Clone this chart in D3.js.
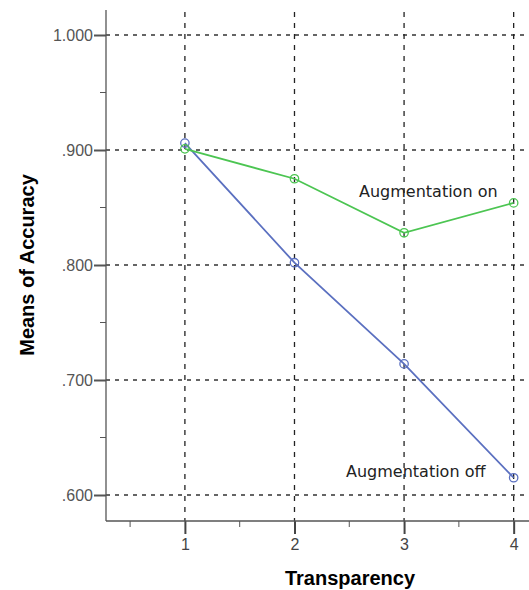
<!DOCTYPE html>
<html>
<head>
<meta charset="utf-8">
<script src="https://d3js.org/d3.v7.min.js"></script>
<style>
  body { margin: 0; background: #fff; }
  text { font-family: "Liberation Sans", Arial, sans-serif; }
</style>
</head>
<body>
<script>
'use strict';

// chart values
let transparency = [1, 2, 3, 4];
let augOn = [0.901, 0.875, 0.828, 0.854];
let augOff = [0.906, 0.802, 0.714, 0.615];
let yTicks = [0.6, 0.7, 0.8, 0.9, 1.0];
let yMinorTicks = [0.65, 0.75, 0.85, 0.95];
let xMinorTicks = [0.5, 1.5, 2.5, 3.5];

let width = 529, height = 590;

let svg = d3.select('body')
  .append('svg')
  .attr('width', width)
  .attr('height', height);

// scales
let xScale = d3.scaleLinear()
  .domain([0.28, 4.14])
  .range([106, 529]);

let yScale = d3.scaleLinear()
  .domain([0.6, 1.0])
  .range([495, 35]);

let plotTop = 10, plotBottom = 521;

// horizontal dashed grid
svg.append('g')
  .selectAll('line')
  .data(yTicks)
  .enter()
  .append('line')
    .attr('x1', 106)
    .attr('x2', width)
    .attr('y1', (d) => yScale(d))
    .attr('y2', (d) => yScale(d))
    .attr('stroke', '#333')
    .attr('stroke-width', 1.3)
    .attr('stroke-dasharray', '4,5');

// vertical dashed grid
svg.append('g')
  .selectAll('line')
  .data(transparency)
  .enter()
  .append('line')
    .attr('x1', (d) => xScale(d))
    .attr('x2', (d) => xScale(d))
    .attr('y1', plotTop + 2)
    .attr('y2', plotBottom)
    .attr('stroke', '#222')
    .attr('stroke-width', 1.3)
    .attr('stroke-dasharray', '5,6');

// y axis
let yAxis = d3.axisLeft(yScale)
  .tickValues(yTicks)
  .tickFormat((d) => d === 1 ? '1.000' : d3.format('.3f')(d).replace(/^0/, ''))
  .tickSize(12)
  .tickPadding(1)
  .tickSizeOuter(0);

let gy = svg.append('g')
  .attr('transform', 'translate(106,0)')
  .call(yAxis);
gy.attr('font-size', 16).attr('font-family', '"Liberation Sans", Arial, sans-serif');
gy.select('.domain').remove();
gy.selectAll('.tick line').attr('stroke', '#555').attr('stroke-width', 2);
gy.selectAll('.tick text').attr('fill', '#555');

svg.append('g')
  .selectAll('line')
  .data(yMinorTicks)
  .enter()
  .append('line')
    .attr('x1', 100)
    .attr('x2', 106)
    .attr('y1', (d) => yScale(d))
    .attr('y2', (d) => yScale(d))
    .attr('stroke', '#555')
    .attr('stroke-width', 1);

svg.append('line')
  .attr('x1', 106).attr('x2', 106)
  .attr('y1', plotTop).attr('y2', plotBottom)
  .attr('stroke', '#555')
  .attr('stroke-width', 1.3);

// x axis
let xAxis = d3.axisBottom(xScale)
  .tickValues(transparency)
  .tickFormat(d3.format('d'))
  .tickSize(13)
  .tickPadding(5)
  .tickSizeOuter(0);

let gx = svg.append('g')
  .attr('transform', 'translate(0,' + plotBottom + ')')
  .call(xAxis);
gx.attr('font-size', 16).attr('font-family', '"Liberation Sans", Arial, sans-serif');
gx.select('.domain').remove();
gx.selectAll('.tick line').attr('stroke', '#444').attr('stroke-width', 2);
gx.selectAll('.tick text').attr('fill', '#444');

svg.append('g')
  .selectAll('line')
  .data(xMinorTicks)
  .enter()
  .append('line')
    .attr('x1', (d) => xScale(d))
    .attr('x2', (d) => xScale(d))
    .attr('y1', plotBottom)
    .attr('y2', plotBottom + 6)
    .attr('stroke', '#555')
    .attr('stroke-width', 1);

svg.append('line')
  .attr('x1', 106).attr('x2', width)
  .attr('y1', plotBottom).attr('y2', plotBottom)
  .attr('stroke', '#555')
  .attr('stroke-width', 1.3);

// series
function drawSeries(values, color) {
  let rows = transparency.map((t, i) => ({ x: t, y: values[i] }));
  let line = d3.line()
    .x((d) => xScale(d.x))
    .y((d) => yScale(d.y));

  svg.append('path')
    .datum(rows)
    .attr('fill', 'none')
    .attr('stroke', color)
    .attr('stroke-width', 1.8)
    .attr('d', line);

  svg.append('g')
    .selectAll('circle')
    .data(rows)
    .enter()
    .append('circle')
      .attr('cx', (d) => xScale(d.x))
      .attr('cy', (d) => yScale(d.y))
      .attr('r', 4.2)
      .attr('fill', 'none')
      .attr('stroke', color)
      .attr('stroke-width', 1.3);
}

drawSeries(augOff, '#5b70c0');
drawSeries(augOn, '#4cc552');

// series labels
svg.append('text')
  .attr('x', 359)
  .attr('y', 197)
  .attr('fill', '#222')
  .style('font-family', '"DejaVu Sans", sans-serif')
  .style('font-size', '16px')
  .text('Augmentation on');

svg.append('text')
  .attr('x', 346)
  .attr('y', 477)
  .attr('fill', '#222')
  .style('font-family', '"DejaVu Sans", sans-serif')
  .style('font-size', '16px')
  .text('Augmentation off');

// axis titles
svg.append('text')
  .attr('x', 350)
  .attr('y', 585)
  .attr('text-anchor', 'middle')
  .style('font-size', '20px')
  .style('font-weight', 'bold')
  .text('Transparency');

svg.append('text')
  .attr('transform', 'translate(34, 265)rotate(-90)')
  .attr('text-anchor', 'middle')
  .style('font-size', '20px')
  .style('font-weight', 'bold')
  .text('Means of Accuracy');
</script>
</body>
</html>
